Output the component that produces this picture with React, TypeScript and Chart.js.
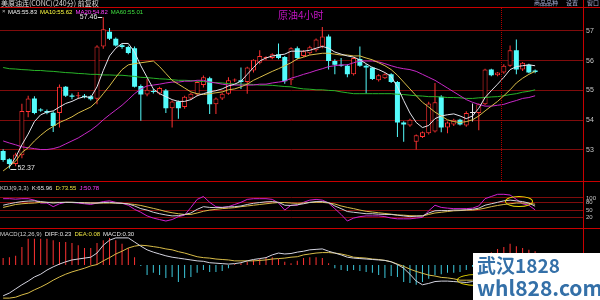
import React, { useEffect, useRef } from "react";
import { Chart, registerables } from "chart.js";
Chart.register(...registerables);

// ---------------- data ----------------
const opens = [52.96,52.68,52.52,52.82,54.27,54.73,54.36,54.31,54.25,54.24,
55.12,54.83,54.80,54.82,54.80,54.72,56.48,56.97,56.74,56.52,
56.46,56.42,55.15,54.86,54.98,54.90,55.00,54.40,54.63,54.44,
54.73,54.86,55.18,55.41,54.53,54.73,54.89,55.33,55.34,55.28,
55.67,55.93,56.09,56.09,56.22,56.12,55.34,56.42,56.16,56.25,
56.35,56.48,56.81,55.99,55.86,55.83,55.54,56.06,55.83,55.77,
55.34,55.41,55.54,55.28,53.92,53.82,53.27,53.43,53.56,53.62,
54.79,53.75,53.85,54.01,53.82,54.24,54.24,54.53,55.70,55.51,
55.60,55.83,56.35,55.70,55.86,55.67];
const highs = [53.02,52.72,52.90,54.55,54.82,54.80,54.40,54.36,54.30,55.20,
55.15,54.90,54.95,54.88,54.84,56.52,57.46,57.10,56.78,56.56,
56.50,56.48,55.20,55.38,55.05,55.12,55.05,54.66,54.66,54.82,
54.92,55.32,55.50,55.46,54.76,54.92,55.44,55.40,55.77,55.80,
56.05,56.35,56.15,56.25,56.58,56.16,56.45,56.48,56.36,56.50,
56.75,57.13,56.88,56.05,56.09,55.88,56.12,56.48,55.88,55.80,
55.54,55.58,55.58,55.32,53.96,54.05,53.52,53.62,54.62,55.25,
54.84,53.95,54.05,54.05,54.30,54.56,54.56,55.73,55.73,55.62,
55.88,56.51,56.71,55.96,55.90,55.70];
const lows = [52.60,52.37,52.45,52.72,54.10,54.20,54.28,54.20,53.60,53.75,
54.78,54.70,54.72,54.74,54.66,54.53,56.40,56.70,56.48,56.40,
56.22,55.10,53.98,54.80,54.90,54.85,54.24,53.75,54.05,54.38,
54.68,54.80,55.10,54.21,54.21,54.68,54.85,55.28,55.05,54.89,
55.60,55.88,56.02,56.05,56.05,55.22,55.18,56.05,56.12,56.20,
56.30,56.42,55.70,55.54,55.80,55.44,55.50,55.80,54.89,55.35,
55.30,55.38,55.25,53.43,53.27,53.78,53.01,53.40,53.52,53.58,
53.59,53.56,53.80,53.82,53.78,53.95,53.66,54.50,55.48,55.48,
55.56,55.80,55.54,55.65,55.58,55.58];
const closes = [52.66,52.52,52.84,54.31,54.73,54.24,54.32,54.25,53.80,55.12,
54.82,54.79,54.84,54.78,54.70,56.48,57.06,56.74,56.51,56.46,
56.26,55.12,54.86,55.02,54.95,55.08,54.40,54.63,54.40,54.79,
54.89,55.28,55.44,54.53,54.73,54.89,55.34,55.35,55.28,55.77,
56.03,56.16,56.10,56.22,56.09,55.31,56.42,56.09,56.32,56.45,
56.71,56.81,55.99,55.86,55.83,55.54,56.09,55.83,55.77,55.38,
55.51,55.54,55.28,53.92,53.85,54.01,53.49,53.59,54.56,54.60,
53.75,53.92,54.01,53.85,54.24,54.24,54.53,55.70,55.51,55.60,
55.83,56.35,55.70,55.93,55.60,55.62];

const ma5 = [null,52.42,52.75,53.17,53.53,53.95,54.18,54.27,54.31,54.44,
54.56,54.63,54.73,54.79,54.76,55.12,55.67,56.16,56.42,56.58,
56.58,56.29,55.83,55.44,55.05,54.89,54.79,54.69,54.63,54.63,
54.69,54.82,54.89,54.95,54.99,55.05,55.15,55.21,55.31,55.54,
55.77,55.99,56.09,56.16,56.19,56.22,56.32,56.32,56.32,56.35,
56.42,56.48,56.42,56.29,56.22,56.16,56.12,56.03,55.90,55.77,
55.70,55.60,55.47,55.12,54.66,54.24,53.92,53.75,53.82,54.05,
54.14,54.18,54.21,54.14,54.05,54.14,54.40,54.76,54.99,55.21,
55.44,55.70,55.80,55.83,55.86,55.83];
const ma10 = [52.29,52.45,52.62,52.91,53.07,53.30,53.49,53.66,53.79,53.92,
54.01,54.11,54.24,54.34,54.44,54.63,54.89,55.15,55.44,55.70,
55.86,55.90,55.93,55.96,55.99,55.80,55.57,55.34,55.21,55.08,
54.95,54.89,54.86,54.89,54.92,54.95,55.02,55.05,55.12,55.21,
55.34,55.44,55.54,55.64,55.73,55.83,55.93,56.06,56.12,56.19,
56.22,56.25,56.25,56.22,56.19,56.19,56.16,56.16,56.09,56.03,
55.93,55.83,55.70,55.51,55.28,55.05,54.82,54.60,54.44,54.27,
54.14,54.01,53.95,53.92,53.95,54.01,54.14,54.31,54.47,54.63,
54.82,55.02,55.25,55.41,55.54,55.64];
const ma20 = [53.30,53.23,53.17,53.10,53.07,53.04,53.01,53.01,53.04,53.10,
53.20,53.30,53.40,53.53,53.66,53.82,54.01,54.18,54.34,54.50,
54.69,54.89,55.05,55.15,55.18,55.21,55.25,55.28,55.28,55.31,
55.31,55.34,55.34,55.28,55.25,55.21,55.18,55.18,55.18,55.18,
55.18,55.21,55.21,55.25,55.28,55.31,55.41,55.47,55.54,55.60,
55.67,55.73,55.80,55.83,55.86,55.86,55.93,55.99,55.99,55.99,
55.96,55.90,55.83,55.77,55.73,55.70,55.64,55.54,55.44,55.34,
55.21,55.08,54.95,54.82,54.69,54.60,54.53,54.47,54.47,54.50,
54.53,54.60,54.66,54.73,54.76,54.82];
const ma60 = [55.77,55.73,55.72,55.70,55.69,55.67,55.67,55.65,55.64,55.62,
55.60,55.59,55.57,55.56,55.54,55.54,55.52,55.52,55.51,55.51,
55.49,55.47,55.44,55.43,55.41,55.39,55.38,55.36,55.34,55.34,
55.33,55.31,55.30,55.28,55.26,55.25,55.23,55.21,55.21,55.21,
55.20,55.18,55.18,55.17,55.15,55.13,55.12,55.08,55.05,55.04,
55.02,55.02,55.00,54.99,54.95,54.92,54.89,54.89,54.89,54.89,
54.89,54.89,54.89,54.87,54.86,54.84,54.82,54.81,54.79,54.79,
54.78,54.76,54.76,54.75,54.73,54.73,54.75,54.76,54.78,54.79,
54.82,54.86,54.89,54.94,54.97,55.02];

const kdjK = [70,76,81,85,87,88,85,82,79,81,
82,82,81,79,79,79,81,82,79,78,
75,67,56,50,41,35,30,26,27,32,
38,53,64,61,60,61,63,64,67,73,
78,81,84,85,82,70,69,72,76,82,
85,85,81,67,56,44,41,38,35,35,
33,32,32,29,26,23,25,26,38,47,
48,48,50,50,51,53,58,70,76,82,
88,91,88,85,79,66];
const kdjD = [61,67,73,76,78,79,82,82,82,82,
82,82,81,81,79,79,79,79,79,78,
76,73,69,63,57,51,44,39,35,32,
32,38,45,50,53,56,58,60,64,67,
70,73,76,79,81,81,79,78,79,81,
82,82,79,75,67,61,56,50,45,42,
39,36,33,30,29,27,26,26,32,38,
41,44,47,48,50,50,53,58,64,69,
73,76,79,79,78,74];
const kdjJ = [97,97,95,97,97,91,79,79,64,76,
82,81,79,76,73,79,85,88,82,78,
70,53,41,26,17,11,5,11,23,29,
61,94,106,82,64,61,64,73,82,94,
97,97,97,94,79,50,70,70,82,91,
94,91,79,56,32,5,17,23,26,26,
26,23,17,14,14,14,17,20,47,70,
61,58,56,56,56,58,67,97,106,115,
115,112,94,76,70,51];

const macdHist = [0.15,0.17,0.20,0.39,0.57,0.57,0.57,0.57,0.54,0.50,
0.50,0.48,0.43,0.37,0.37,0.48,0.54,0.59,0.54,0.46,
0.37,0.17,-0.02,-0.22,-0.17,-0.22,-0.28,-0.26,-0.37,-0.28,
-0.26,-0.17,-0.11,-0.15,-0.15,-0.13,-0.07,0.02,0.04,0.07,
0.11,0.13,0.17,0.17,0.13,0.07,0.04,0.09,0.15,0.17,
0.17,0.15,0.04,-0.07,-0.11,-0.13,-0.11,-0.13,-0.15,-0.17,
-0.22,-0.28,-0.24,-0.26,-0.37,-0.39,-0.43,-0.37,-0.30,-0.22,
-0.20,-0.17,-0.17,-0.15,-0.11,-0.04,0.04,0.17,0.28,0.35,
0.39,0.46,0.41,0.37,0.33,0.30];
const dif = [-0.67,-0.61,-0.52,-0.43,-0.35,-0.26,-0.20,-0.11,-0.04,0.02,
0.07,0.11,0.13,0.15,0.17,0.26,0.43,0.54,0.59,0.59,
0.59,0.50,0.41,0.33,0.28,0.24,0.20,0.17,0.15,0.13,
0.11,0.09,0.08,0.05,0.04,0.03,0.02,0.03,0.05,0.09,
0.12,0.14,0.16,0.22,0.26,0.24,0.25,0.28,0.30,0.33,
0.34,0.35,0.30,0.26,0.22,0.17,0.15,0.14,0.13,0.12,
0.11,0.10,0.07,0.01,-0.07,-0.20,-0.35,-0.43,-0.40,-0.36,
-0.35,-0.35,-0.36,-0.37,-0.38,-0.36,-0.30,-0.18,-0.06,0.03,
0.10,0.18,0.22,0.24,0.24,0.23];
const dea = [-0.72,-0.72,-0.70,-0.65,-0.61,-0.54,-0.48,-0.41,-0.33,-0.26,
-0.20,-0.15,-0.11,-0.07,-0.02,0.01,0.09,0.16,0.24,0.30,
0.37,0.41,0.43,0.42,0.40,0.38,0.35,0.33,0.29,0.26,
0.22,0.18,0.16,0.15,0.13,0.12,0.11,0.09,0.09,0.09,
0.09,0.10,0.11,0.13,0.14,0.15,0.17,0.18,0.22,0.24,
0.26,0.27,0.27,0.26,0.24,0.21,0.17,0.16,0.15,0.13,
0.12,0.10,0.07,0.02,-0.03,-0.09,-0.14,-0.18,-0.22,-0.24,
-0.27,-0.28,-0.30,-0.33,-0.33,-0.33,-0.32,-0.28,-0.22,-0.15,
-0.09,-0.03,0.01,0.04,0.06,0.08];

const priceTicks = [53, 54, 55, 56, 57];
const kdjTicks = [100, 80, 50, 20];

// ---------------- styles ----------------
const UP = "#ff3232";
const DOWN = "#54fcfc";
const DOJI = "#e8e8e8";
const GRID = "#800c0c";
const FRAME = "#c80000";
const FONT = "'Liberation Sans', Arial, sans-serif";
const CJK = "'Noto Sans CJK SC', sans-serif";

Chart.defaults.font.family = FONT;

const idx = closes.map((_, i) => i);
const colorOf = (i: number) =>
  closes[i] > opens[i] ? UP : closes[i] < opens[i] ? DOWN : DOJI;

const xAxis = () => ({
  type: "linear" as const,
  min: -0.5,
  max: 92.65,
  display: false,
  offset: false,
});

const pts = (arr: (number | null)[]) => idx.map((i) => ({ x: i, y: arr[i] }));

const lineDs = (label: string, arr: (number | null)[], color: string) => ({
  type: "line" as const,
  label,
  data: pts(arr),
  borderColor: color,
  borderWidth: 1,
  pointRadius: 0,
  tension: 0,
  spanGaps: true,
  order: 0,
});

const baseOpts = {
  animation: false as const,
  responsive: false,
  maintainAspectRatio: false,
  events: [] as any[],
  plugins: { legend: { display: false }, tooltip: { enabled: false } },
};

const extremaPlugin = {
  id: "extrema",
  afterDatasetsDraw(chart: any) {
    const { ctx } = chart;
    const x = chart.scales.x;
    const y = chart.scales.y;
    let hi = 0;
    let lo = 0;
    highs.forEach((v, i) => { if (v > highs[hi]) hi = i; });
    lows.forEach((v, i) => { if (v < lows[lo]) lo = i; });
    ctx.save();
    ctx.font = `7px ${FONT}`;
    ctx.fillStyle = "#e6e6e6";
    ctx.strokeStyle = "#e6e6e6";
    ctx.lineWidth = 1;
    ctx.textBaseline = "middle";
    const hx = x.getPixelForValue(hi);
    const hy = y.getPixelForValue(highs[hi]);
    ctx.textAlign = "right";
    ctx.fillText(highs[hi].toFixed(2), hx - 6, hy);
    ctx.beginPath();
    ctx.moveTo(hx - 5.5, Math.round(hy) + 0.5);
    ctx.lineTo(hx - 1, Math.round(hy) + 0.5);
    ctx.stroke();
    const lx = x.getPixelForValue(lo);
    const ly = y.getPixelForValue(lows[lo]);
    ctx.textAlign = "left";
    ctx.fillText(lows[lo].toFixed(2), lx + 8, ly);
    ctx.beginPath();
    ctx.moveTo(lx + 1, Math.round(ly) + 0.5);
    ctx.lineTo(lx + 7, Math.round(ly) + 0.5);
    ctx.stroke();
    ctx.restore();
  },
};

function T(props: { x: number; y: number; c: string; s?: number; f?: string; w?: any; children: any }) {
  const s = props.s ?? 6;
  return (
    <div
      style={{
        position: "absolute",
        left: props.x,
        top: props.y,
        color: props.c,
        fontSize: s,
        lineHeight: `${Math.ceil(s) + 1}px`,
        whiteSpace: "nowrap",
        fontFamily: props.f ?? FONT,
        fontWeight: props.w ?? "normal",
      }}
    >
      {props.children}
    </div>
  );
}

function Row(props: { x: number; y: number; gap: number; items: [string, string][] }) {
  return (
    <div
      style={{
        position: "absolute",
        left: props.x,
        top: props.y,
        display: "flex",
        gap: props.gap,
        fontSize: 6,
        lineHeight: "7px",
        fontFamily: FONT,
        whiteSpace: "nowrap",
      }}
    >
      {props.items.map(([t, c], k) => (
        <span key={k} style={{ color: c }}>{t}</span>
      ))}
    </div>
  );
}

export default function App() {
  const mainRef = useRef<HTMLCanvasElement>(null);
  const kdjRef = useRef<HTMLCanvasElement>(null);
  const macdRef = useRef<HTMLCanvasElement>(null);

  useEffect(() => {
    const main = new Chart(mainRef.current as HTMLCanvasElement, {
      type: "bar",
      data: {
        datasets: [
          lineDs("MA5", ma5, "#e4e4ec"),
          lineDs("MA10", ma10, "#d8bc48"),
          lineDs("MA20", ma20, "#c828c8"),
          lineDs("MA60", ma60, "#28b428"),
          {
            type: "bar",
            label: "body",
            data: idx.map((i) => ({ x: i, y: [opens[i], closes[i]] })),
            backgroundColor: idx.map((i) => (closes[i] > opens[i] ? "#000000" : colorOf(i))),
            borderColor: idx.map((i) => colorOf(i)),
            borderWidth: idx.map((i) => (closes[i] > opens[i] ? 1 : 0)),
            borderSkipped: false,
            barThickness: 5,
            minBarLength: 1,
            grouped: false,
            inflateAmount: 0,
            order: 5,
          } as any,
          {
            type: "bar",
            label: "wick",
            data: idx.map((i) => ({ x: i, y: [lows[i], highs[i]] })),
            backgroundColor: idx.map((i) => colorOf(i)),
            borderWidth: 0,
            barThickness: 1,
            grouped: false,
            inflateAmount: 0,
            order: 6,
          } as any,
        ],
      },
      options: {
        ...baseOpts,
        layout: { padding: { top: 7, bottom: 1, left: 0, right: 0 } },
        scales: {
          x: xAxis(),
          y: {
            position: "right",
            min: 52.16,
            max: 57.8,
            beginAtZero: false,
            afterFit: (s: any) => { s.width = 17; },
            afterBuildTicks: (s: any) => { s.ticks = priceTicks.map((v) => ({ value: v })); },
            grid: { color: GRID, lineWidth: 1, drawTicks: false },
            border: { display: false },
            ticks: { color: "#c8c8c8", font: { size: 7 }, padding: 3 },
          },
        },
      } as any,
      plugins: [extremaPlugin],
    });

    const kdj = new Chart(kdjRef.current as HTMLCanvasElement, {
      type: "line",
      data: {
        datasets: [
          lineDs("K", kdjK, "#d0d0d8"),
          lineDs("D", kdjD, "#d8bc48"),
          lineDs("J", kdjJ, "#d020d0"),
        ],
      },
      options: {
        ...baseOpts,
        layout: { padding: 0 },
        scales: {
          x: xAxis(),
          y: {
            position: "right",
            min: -0.74,
            max: 138.5,
            afterFit: (s: any) => { s.width = 17; },
            afterBuildTicks: (s: any) => { s.ticks = kdjTicks.map((v) => ({ value: v })); },
            grid: { color: GRID, lineWidth: 1, drawTicks: false },
            border: { display: false },
            ticks: { color: "#c8c8c8", font: { size: 6 }, padding: 3 },
          },
        },
      } as any,
    });

    const macd = new Chart(macdRef.current as HTMLCanvasElement, {
      type: "bar",
      data: {
        datasets: [
          lineDs("DIF", dif, "#d4d4e0"),
          lineDs("DEA", dea, "#d8bc48"),
          {
            type: "bar",
            label: "MACD",
            data: idx.map((i) => ({ x: i, y: macdHist[i] })),
            backgroundColor: idx.map((i) => (macdHist[i] >= 0 ? UP : "#3cc8dc")),
            borderWidth: 0,
            barThickness: 1,
            grouped: false,
            inflateAmount: 0,
            order: 5,
          } as any,
        ],
      },
      options: {
        ...baseOpts,
        layout: { padding: { top: 0, bottom: 0, left: 0, right: 17 } },
        scales: {
          x: xAxis(),
          y: { display: false, min: -0.761, max: 0.783, beginAtZero: false },
        },
      } as any,
    });

    return () => {
      main.destroy();
      kdj.destroy();
      macd.destroy();
    };
  }, []);

  const line = (l: number, t: number, w: number, h: number) => (
    <div style={{ position: "absolute", left: l, top: t, width: w, height: h, background: FRAME }} />
  );

  return (
    <div
      style={{
        position: "fixed",
        left: 0,
        top: 0,
        width: 600,
        height: 300,
        background: "#000",
        overflow: "hidden",
      }}
    >
      <canvas ref={mainRef} width={600} height={182} style={{ position: "absolute", left: 0, top: 0 }} />
      <canvas ref={kdjRef} width={600} height={47} style={{ position: "absolute", left: 0, top: 182 }} />
      <canvas ref={macdRef} width={600} height={71} style={{ position: "absolute", left: 0, top: 229 }} />

      {line(0, 7, 600, 1)}
      {line(583, 0, 1, 300)}
      {line(0, 181, 600, 1)}
      {line(0, 228, 600, 1)}
      <div style={{ position: "absolute", left: 501, top: 8, width: 0, height: 173, borderLeft: "1px dotted #b00000" }} />

      <T x={1} y={-1} c="#dcdcdc" s={7} f={CJK}>美原油连(CONC)(240分) 前复权</T>
      <T x={534} y={-1} c="#a8b0d8" s={6} f={CJK}>商品品种</T>
      <T x={566} y={-1} c="#a8b0d8" s={6} f={CJK}>设置</T>
      <T x={587} y={-1} c="#a8b0d8" s={6} f={CJK}>窗口</T>

      <T x={2} y={8} c="#c0c0c0">×</T>
      <Row x={8} y={9} gap={3} items={[["MA5:55.83", "#f0f0f0"], ["MA10:55.62", "#ffff40"], ["MA20:54.82", "#ff40ff"], ["MA60:55.01", "#40e040"]]} />

      <T x={278} y={9} c="#c414c4" s={10} f={CJK}>原油4小时</T>

      <Row x={0} y={185} gap={3} items={[["KDJ(9,3,3)", "#d0d0d0"], ["K:65.96", "#e6e6e6"], ["D:73.55", "#e8e040"], ["J:50.78", "#ff40ff"]]} />
      <Row x={0} y={231} gap={3} items={[["MACD(12,26,9)", "#d0d0d0"], ["DIFF:0.23", "#e6e6e6"], ["DEA:0.08", "#e8e040"], ["MACD:0.30", "#e6e6e6"]]} />

      <div style={{ position: "absolute", left: 505, top: 196, width: 26, height: 9, border: "1.5px solid #e8d800", borderRadius: "50%" }} />
      <div style={{ position: "absolute", left: 457, top: 274, width: 36, height: 10, border: "1.5px solid #e8d800", borderRadius: "50%" }} />

      <div style={{ position: "absolute", left: 473, top: 253, width: 127, height: 47, background: "#ffffff" }} />
      <T x={477} y={255} c="#3470a8" s={19} f={CJK} w="bold">武汉1828</T>
      <T x={477} y={276} c="#3470a8" s={21} f={CJK} w="bold">whl828.com</T>
    </div>
  );
}
